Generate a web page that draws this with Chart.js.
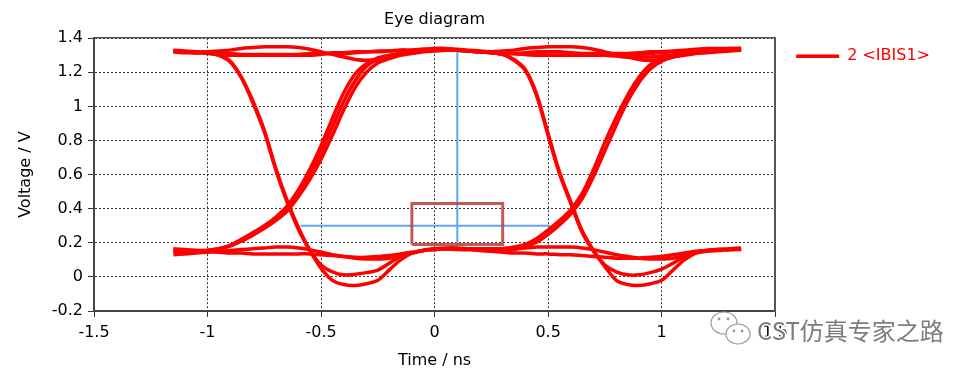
<!DOCTYPE html>
<html lang="en">
<head>
<meta charset="utf-8">
<title>Eye diagram</title>
<style>
html, body { margin: 0; padding: 0; background: #fff; }
#wrap { width: 975px; height: 373px; }
</style>
</head>
<body>
<div id="wrap"><canvas id="canvas"></canvas></div>
<script src="https://cdn.jsdelivr.net/npm/chart.js"></script>
<script>

// time axis shared by every trace (ns)
let TIME = [-1.15, -1.10, -1.05, -1.00, -0.95, -0.90, -0.85, -0.80, -0.75, -0.70,
    -0.65, -0.60, -0.55, -0.50, -0.45, -0.40, -0.35, -0.30, -0.25, -0.20,
    -0.15, -0.10, -0.05, 0.00, 0.05, 0.10, 0.15, 0.20, 0.25, 0.30,
    0.35, 0.40, 0.45, 0.50, 0.55, 0.60, 0.65, 0.70, 0.75, 0.80,
    0.85, 0.90, 0.95, 1.00, 1.05, 1.10, 1.15, 1.20, 1.25, 1.30, 1.35]

// overlaid bit-pattern traces (V)
let TRACE_A = [1.33, 1.325, 1.32, 1.32, 1.325, 1.33, 1.34, 1.345, 1.35, 1.35,
    1.35, 1.345, 1.335, 1.32, 1.305, 1.29, 1.275, 1.27, 1.275, 1.29,
    1.305, 1.32, 1.33, 1.335, 1.335, 1.33, 1.325, 1.32, 1.32, 1.325,
    1.33, 1.34, 1.345, 1.35, 1.35, 1.35, 1.345, 1.335, 1.32, 1.305,
    1.29, 1.275, 1.27, 1.275, 1.29, 1.305, 1.32, 1.33, 1.335, 1.34, 1.34]
let TRACE_B = [1.32, 1.32, 1.315, 1.31, 1.305, 1.30, 1.30, 1.30, 1.30, 1.30,
    1.30, 1.30, 1.30, 1.305, 1.31, 1.31, 1.315, 1.32, 1.32, 1.325,
    1.33, 1.33, 1.335, 1.34, 1.34, 1.335, 1.33, 1.325, 1.32, 1.315,
    1.31, 1.305, 1.30, 1.30, 1.30, 1.30, 1.30, 1.30, 1.30, 1.30,
    1.30, 1.305, 1.31, 1.315, 1.32, 1.32, 1.325, 1.33, 1.33, 1.335, 1.34]
let TRACE_C = [1.325, 1.32, 1.32, 1.315, 1.31, 1.31, 1.305, 1.305, 1.305, 1.305,
    1.305, 1.305, 1.31, 1.31, 1.315, 1.315, 1.32, 1.32, 1.325, 1.325,
    1.33, 1.33, 1.335, 1.335, 1.335, 1.33, 1.325, 1.32, 1.315, 1.305,
    1.27, 1.21, 1.06, 0.83, 0.605, 0.43, 0.26, 0.15, 0.07, 0.03,
    0.012, 0.012, 0.025, 0.045, 0.08, 0.12, 0.145, 0.155, 0.16, 0.16, 0.165]
let TRACE_D = [1.32, 1.315, 1.315, 1.315, 1.30, 1.26, 1.165, 1.02, 0.85, 0.63,
    0.44, 0.28, 0.155, 0.05, -0.02, -0.045, -0.05, -0.04, -0.02, 0.04,
    0.10, 0.14, 0.155, 0.165, 0.165, 0.16, 0.16, 0.16, 0.16, 0.165,
    0.175, 0.19, 0.225, 0.275, 0.33, 0.395, 0.49, 0.63, 0.79, 0.935,
    1.065, 1.17, 1.245, 1.28, 1.30, 1.31, 1.315, 1.32, 1.325, 1.33, 1.335]
let TRACE_E = [1.325, 1.32, 1.315, 1.315, 1.30, 1.265, 1.17, 1.03, 0.86, 0.64,
    0.45, 0.29, 0.16, 0.07, 0.03, 0.012, 0.015, 0.025, 0.04, 0.08,
    0.12, 0.14, 0.155, 0.16, 0.165, 0.165, 0.16, 0.155, 0.15, 0.145,
    0.14, 0.14, 0.135, 0.135, 0.13, 0.13, 0.125, 0.12, 0.115, 0.11,
    0.11, 0.11, 0.115, 0.12, 0.13, 0.14, 0.15, 0.155, 0.16, 0.16, 0.165]
let TRACE_F = [0.145, 0.145, 0.15, 0.155, 0.165, 0.185, 0.22, 0.255, 0.295, 0.34,
    0.40, 0.49, 0.60, 0.73, 0.88, 1.03, 1.15, 1.235, 1.275, 1.295,
    1.31, 1.32, 1.325, 1.335, 1.335, 1.33, 1.325, 1.32, 1.315, 1.31,
    1.31, 1.305, 1.305, 1.30, 1.30, 1.30, 1.30, 1.305, 1.30, 1.295,
    1.29, 1.29, 1.29, 1.295, 1.30, 1.31, 1.315, 1.32, 1.325, 1.33, 1.335]
let TRACE_G = [0.16, 0.155, 0.155, 0.155, 0.165, 0.18, 0.21, 0.245, 0.285, 0.33,
    0.385, 0.47, 0.57, 0.69, 0.83, 0.98, 1.11, 1.20, 1.255, 1.28,
    1.30, 1.31, 1.32, 1.325, 1.33, 1.33, 1.325, 1.32, 1.315, 1.305,
    1.275, 1.215, 1.07, 0.84, 0.615, 0.44, 0.27, 0.155, 0.06, -0.02,
    -0.045, -0.05, -0.04, -0.02, 0.04, 0.10, 0.14, 0.155, 0.16, 0.165, 0.17]
let TRACE_H = [0.13, 0.135, 0.14, 0.145, 0.15, 0.155, 0.16, 0.165, 0.17, 0.175,
    0.175, 0.17, 0.16, 0.145, 0.13, 0.12, 0.11, 0.105, 0.105, 0.11,
    0.125, 0.14, 0.155, 0.165, 0.17, 0.17, 0.165, 0.16, 0.155, 0.155,
    0.16, 0.175, 0.205, 0.25, 0.305, 0.37, 0.46, 0.59, 0.74, 0.89,
    1.03, 1.14, 1.22, 1.265, 1.29, 1.30, 1.31, 1.315, 1.32, 1.325, 1.33]
let TRACE_I = [0.165, 0.16, 0.155, 0.15, 0.145, 0.14, 0.14, 0.135, 0.135, 0.135,
    0.135, 0.135, 0.135, 0.13, 0.125, 0.12, 0.115, 0.115, 0.12, 0.125,
    0.135, 0.145, 0.155, 0.16, 0.165, 0.165, 0.165, 0.165, 0.165, 0.165,
    0.17, 0.17, 0.175, 0.175, 0.175, 0.175, 0.17, 0.16, 0.145, 0.13,
    0.12, 0.11, 0.105, 0.105, 0.11, 0.125, 0.14, 0.15, 0.155, 0.16, 0.16]
let TRACE_J = [0.15, 0.15, 0.15, 0.155, 0.165, 0.185, 0.22, 0.26, 0.30, 0.35,
    0.415, 0.51, 0.63, 0.77, 0.93, 1.08, 1.19, 1.25, 1.285, 1.30,
    1.31, 1.32, 1.325, 1.33, 1.335, 1.33, 1.325, 1.32, 1.315, 1.31,
    1.31, 1.315, 1.32, 1.32, 1.32, 1.315, 1.31, 1.31, 1.31, 1.31,
    1.31, 1.315, 1.32, 1.32, 1.325, 1.33, 1.335, 1.34, 1.34, 1.34, 1.34]

let TRACES = [TRACE_A, TRACE_B, TRACE_C, TRACE_D, TRACE_E, TRACE_F, TRACE_G, TRACE_H, TRACE_I, TRACE_J]
let SERIES_NAME = "2 <IBIS1>"

// cursor cross and eye mask
let CURSOR_T = 0.1
let CURSOR_T_SPAN = [0.16, 1.33]
let CURSOR_V = 0.3
let CURSOR_V_SPAN = [-0.59, 0.51]
let MASK_T = [-0.1, 0.3]
let MASK_V = [0.19, 0.43]

let X_TICKS = ["-1.5", "-1", "-0.5", "0", "0.5", "1", "1.5"]
let Y_TICKS = ["-0.2", "0", "0.2", "0.4", "0.6", "0.8", "1", "1.2", "1.4"]

Chart.defaults.font.family = "'DejaVu Sans', sans-serif"
Chart.defaults.font.size = 16
Chart.defaults.color = "#000"

let datasets = TRACES.map((ys, i) => ({
    label: i == 0 ? SERIES_NAME : "",
    data: TIME.map((t, j) => ({x: t, y: ys[j]})),
    borderColor: "#ff0000",
    backgroundColor: "#ff0000",
    borderWidth: 3.5,
    pointRadius: 0,
    tension: 0.3,
    order: 1,
}))

datasets.push({
    label: "",
    data: [{x: CURSOR_T, y: CURSOR_T_SPAN[0]}, {x: CURSOR_T, y: CURSOR_T_SPAN[1]}],
    borderColor: "#5ea6f2",
    borderWidth: 2,
    pointRadius: 0,
    order: 2,
})
datasets.push({
    label: "",
    data: [{x: CURSOR_V_SPAN[0], y: CURSOR_V}, {x: CURSOR_V_SPAN[1], y: CURSOR_V}],
    borderColor: "#5ea6f2",
    borderWidth: 2,
    pointRadius: 0,
    order: 2,
})
datasets.push({
    label: "",
    data: [
        {x: MASK_T[0], y: MASK_V[0]}, {x: MASK_T[0], y: MASK_V[1]},
        {x: MASK_T[1], y: MASK_V[1]}, {x: MASK_T[1], y: MASK_V[0]},
        {x: MASK_T[0], y: MASK_V[0]},
    ],
    borderColor: "rgba(188,72,70,0.9)",
    borderWidth: 3,
    borderJoinStyle: "miter",
    pointRadius: 0,
    tension: 0,
    order: 0,
})

let watermark = {
    id: "watermark",
    afterDraw(chart) {
        let ctx = chart.ctx
        ctx.save()
        ctx.lineWidth = 1.2
        ctx.strokeStyle = "#9a9a9a"
        ctx.fillStyle = "#fff"
        ctx.beginPath()
        ctx.ellipse(724, 323, 13, 11, 0, 0, Math.PI * 2)
        ctx.fill()
        ctx.stroke()
        ctx.beginPath()
        ctx.ellipse(738, 334, 12, 10, 0, 0, Math.PI * 2)
        ctx.fill()
        ctx.stroke()
        ctx.fillStyle = "#9a9a9a"
        for (let [x, y] of [[719, 319], [728, 319], [734, 331], [742, 331]]) {
            ctx.beginPath()
            ctx.arc(x, y, 1.4, 0, Math.PI * 2)
            ctx.fill()
        }
        ctx.font = "24px 'Noto Sans CJK SC'"
        ctx.textBaseline = "middle"
        ctx.lineWidth = 3
        ctx.strokeStyle = "#fff"
        ctx.strokeText("CST仿真专家之路", 757, 331)
        ctx.fillStyle = "#7d7d7d"
        ctx.fillText("CST仿真专家之路", 757, 331)
        ctx.restore()
    }
}

let gridStyle = {color: "#333", tickColor: "#333", tickLength: 6, lineWidth: 1}
let axisBorder = {dash: [2, 2], color: "#444", width: 2}

new Chart(document.getElementById("canvas"), {
    type: "line",
    data: {datasets: datasets},
    plugins: [watermark],
    options: {
        responsive: true,
        maintainAspectRatio: false,
        animation: false,
        events: [],
        layout: {padding: {left: 0, right: 35, top: 0, bottom: 0}},
        scales: {
            x: {
                type: "linear",
                min: -1.5,
                max: 1.5,
                ticks: {stepSize: 0.5, autoSkip: false, maxRotation: 0, padding: 6,
                    callback: (val, idx) => X_TICKS[idx]},
                grid: gridStyle,
                border: axisBorder,
                title: {display: true, text: "Time / ns", padding: {top: 0, bottom: 3}},
                afterFit: s => { s.height = 62 },
            },
            y: {
                min: -0.2,
                max: 1.4,
                ticks: {stepSize: 0.2, padding: 5, callback: (val, idx) => Y_TICKS[idx]},
                grid: gridStyle,
                border: axisBorder,
                title: {display: true, text: "Voltage / V", padding: {top: 16, bottom: 0}},
                afterFit: s => { s.width = 94 },
            },
            x2: {
                type: "linear",
                position: "top",
                min: -1.5,
                max: 1.5,
                ticks: {display: false},
                grid: {display: false, drawTicks: false},
                border: {color: "#555", width: 1.5},
                afterFit: s => { s.height = 0 },
            },
            y2: {
                type: "linear",
                position: "right",
                min: -0.2,
                max: 1.4,
                ticks: {display: false},
                grid: {display: false, drawTicks: false},
                border: {color: "#555", width: 2},
                afterFit: s => { s.width = 11 },
            },
        },
        plugins: {
            title: {
                display: true,
                text: "Eye diagram",
                fullSize: false,
                color: "#000",
                font: {size: 16, weight: "normal"},
                padding: {top: 10, bottom: 9},
            },
            legend: {
                display: true,
                position: "right",
                align: "start",
                fullSize: false,
                labels: {
                    usePointStyle: true,
                    pointStyle: "line",
                    pointStyleWidth: 43,
                    color: "#ff0000",
                    padding: 10,
                    font: {size: 16},
                    filter: item => item.text == SERIES_NAME,
                },
            },
            tooltip: {enabled: false},
        },
    },
})

</script>
</body>
</html>
